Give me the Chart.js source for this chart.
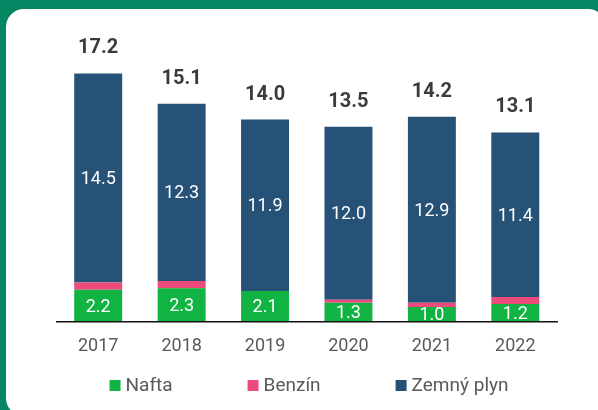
<!DOCTYPE html>
<html><head><meta charset="utf-8">
<script src="https://cdn.jsdelivr.net/npm/chart.js@4.4.0/dist/chart.umd.min.js"></script>
<style>
html,body{margin:0;padding:0;background:#068562;width:598px;height:410px;overflow:hidden;}
#card{position:absolute;left:6px;top:9px;width:600px;height:407px;border-radius:18px;background:#fff;}
#wrap{position:absolute;left:0;top:0;width:598px;height:410px;}
</style></head><body>
<div id="card"></div>
<div id="wrap"><canvas id="c" width="598" height="410"></canvas></div>
<script>
const categories = ['2017','2018','2019','2020','2021','2022'];
const nafta = [2.2, 2.3, 2.1, 1.3, 1.0, 1.2];
const benzin = [0.5, 0.5, 0.0, 0.2, 0.3, 0.5];
const zemnyPlyn = [14.5, 12.3, 11.9, 12.0, 12.9, 11.4];
const totals = [17.2, 15.1, 14.0, 13.5, 14.2, 13.1];
const seriesNames = ['Nafta', 'Benzín', 'Zemný plyn'];
const seriesColors = ['#11b342', '#ee4b7c', '#255276'];

const FONT = 'Roboto, "Liberation Sans", sans-serif';

const labelPlugin = {
  id: 'valueLabels',
  afterDatasetsDraw(chart) {
    const ctx = chart.ctx;
    ctx.save();
    ctx.textAlign = 'center';
    ctx.textBaseline = 'middle';
    ctx.fillStyle = '#ffffff';
    ctx.font = '18px ' + FONT;
    [0, 2].forEach(di => {
      const meta = chart.getDatasetMeta(di);
      meta.data.forEach((el, i) => {
        const v = chart.data.datasets[di].data[i];
        if (!v) return;
        const p = el.getProps(['x', 'y', 'base'], true);
        ctx.fillText(v.toFixed(1), p.x, (p.y + p.base) / 2 + 1.5);
      });
    });
    const ys = chart.scales.y;
    const meta = chart.getDatasetMeta(2);
    ctx.fillStyle = '#3b3b3b';
    ctx.font = 'bold 20px ' + FONT;
    meta.data.forEach((el, i) => {
      ctx.fillText(totals[i].toFixed(1), el.x, ys.getPixelForValue(totals[i]) - 25);
    });
    ctx.restore();
  },
  afterDraw(chart) {
    const ctx = chart.ctx;
    ctx.save();
    ctx.font = '19px ' + FONT;
    ctx.textBaseline = 'middle';
    ctx.textAlign = 'left';
    const box = 11, gapBox = 5, gapItem = 75, cy = 385;
    const ds = chart.data.datasets;
    const widths = ds.map(d => box + gapBox + ctx.measureText(d.label).width);
    const total = widths.reduce((a, b) => a + b, 0) + gapItem * (ds.length - 1);
    let x = 309 - total / 2;
    ds.forEach((d, i) => {
      ctx.fillStyle = d.backgroundColor;
      ctx.fillRect(x, cy - box / 2 + 0.5, box, box);
      ctx.fillStyle = '#595959';
      ctx.fillText(d.label, x + box + gapBox, cy + 1);
      x += widths[i] + gapItem;
    });
    ctx.restore();
  }
};

new Chart(document.getElementById('c'), {
  type: 'bar',
  data: {
    labels: categories,
    datasets: [
      { label: seriesNames[0], data: nafta, backgroundColor: seriesColors[0] },
      { label: seriesNames[1], data: benzin, backgroundColor: seriesColors[1] },
      { label: seriesNames[2], data: zemnyPlyn, backgroundColor: seriesColors[2] }
    ]
  },
  options: {
    responsive: false,
    animation: false,
    layout: { padding: { left: 56.5, right: 41, top: 33, bottom: 47 } },
    datasets: { bar: { categoryPercentage: 1, barPercentage: 0.575, borderWidth: 0 } },
    plugins: { legend: { display: false }, tooltip: { enabled: false } },
    scales: {
      x: {
        stacked: true,
        grid: { display: false },
        border: { display: true, color: '#111111', width: 1.5, z: 1 },
        ticks: { color: '#595959', font: { family: FONT, size: 18 }, padding: 6 }
      },
      y: { stacked: true, display: false, min: 0, max: 20 }
    }
  },
  plugins: [labelPlugin]
});
</script>
</body></html>
